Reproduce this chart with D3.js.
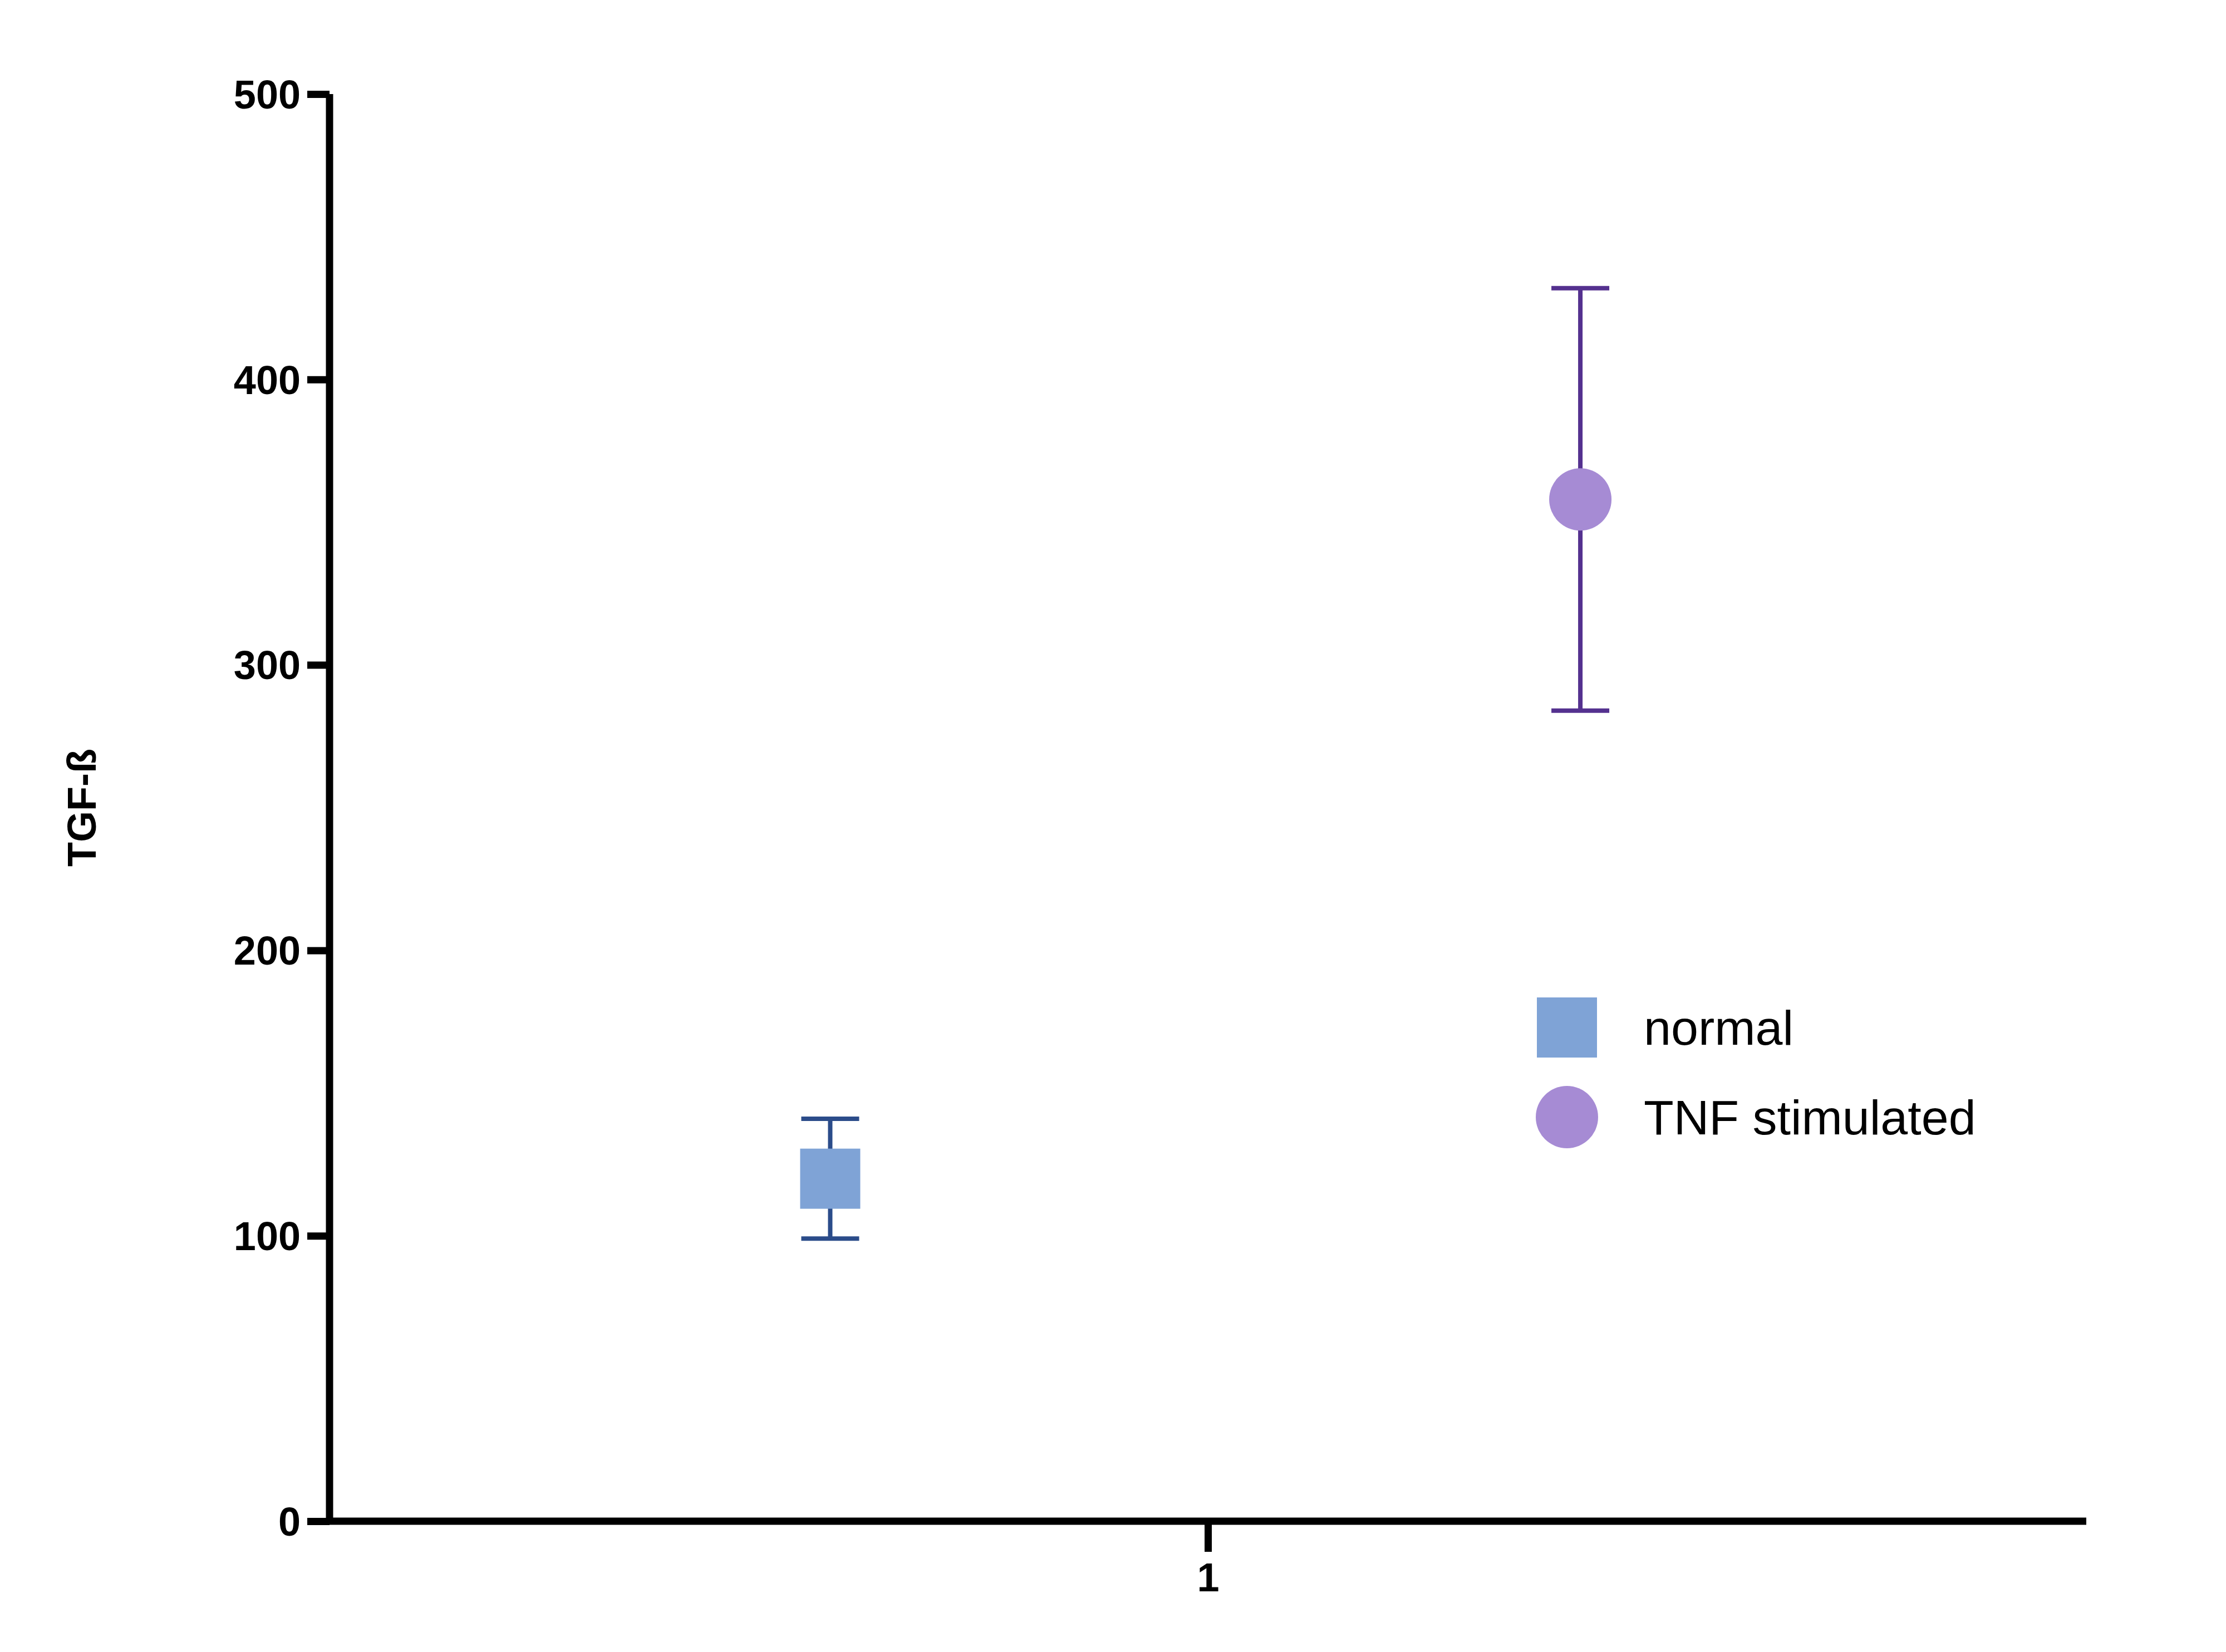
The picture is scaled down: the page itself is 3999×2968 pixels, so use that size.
<!DOCTYPE html><html><head><script src="https://cdn.jsdelivr.net/npm/d3@7"></script>
<style>body{margin:0;background:#fff}</style></head><body><svg id="c" width="3999" height="2968"></svg>
<script>
const groups=["normal","TNF stimulated"];
const means=[120,358];
const lows=[99,284];
const highs=[141,432];
const yTicks=[0,100,200,300,400,500];
const xTicks=["1"];
const fills=["#7fa3d6","#a68bd4"];
const strokes=["#2b4c8a","#54318f"];
const xPos=[0.285,0.712];
const svg=d3.select("#c");
const y=d3.scaleLinear().domain([0,500]).range([2733,169]);
const x=d3.scaleLinear().domain([0,1]).range([592,3748]);
const font="Liberation Sans, Arial, sans-serif";
const ya=svg.append("g").attr("transform","translate(592,0)").call(d3.axisLeft(y).tickValues(yTicks).tickSize(40).tickPadding(12));
ya.select(".domain").attr("stroke","#000").attr("stroke-width",13).attr("d","M0,169V2733");
ya.selectAll(".tick line").attr("stroke","#000").attr("stroke-width",13);
ya.selectAll("text").attr("font-size",72).attr("font-weight","bold").attr("font-family",font).attr("fill","#000").attr("dy","0.35em");
const xa=svg.append("g").attr("transform","translate(0,2733)").call(d3.axisBottom(x).tickValues([0.5]).tickFormat(()=>xTicks[0]).tickSize(55).tickPadding(20));
xa.select(".domain").attr("stroke","#000").attr("stroke-width",13).attr("d","M586,0H3748");
xa.selectAll(".tick line").attr("stroke","#000").attr("stroke-width",13);
xa.selectAll("text").attr("font-size",72).attr("font-weight","bold").attr("font-family",font).attr("fill","#000");
svg.append("text").attr("transform","translate(172,1451) rotate(-90)").attr("text-anchor","middle").attr("font-size",72).attr("font-weight","bold").attr("font-family",font).text("TGF-ß");
groups.forEach((g,i)=>{
  const cx=x(xPos[i]);
  const gg=svg.append("g").attr("stroke",strokes[i]).attr("stroke-width",8);
  gg.append("line").attr("x1",cx).attr("x2",cx).attr("y1",y(lows[i])).attr("y2",y(highs[i]));
  [lows[i],highs[i]].forEach(v=>gg.append("line").attr("x1",cx-52).attr("x2",cx+52).attr("y1",y(v)).attr("y2",y(v)));
  if(i==0) svg.append("rect").attr("x",cx-54).attr("y",y(means[i])-54).attr("width",108).attr("height",108).attr("fill",fills[i]);
  else svg.append("circle").attr("cx",cx).attr("cy",y(means[i])).attr("r",56).attr("fill",fills[i]);
  const ly=1846+i*161;
  if(i==0) svg.append("rect").attr("x",2815-54).attr("y",ly-54).attr("width",108).attr("height",108).attr("fill",fills[i]);
  else svg.append("circle").attr("cx",2815).attr("cy",ly).attr("r",56).attr("fill",fills[i]);
  svg.append("text").attr("x",2953).attr("y",ly).attr("dy","0.35em").attr("font-size",88).attr("font-family",font).text(g);
});
</script></body></html>
